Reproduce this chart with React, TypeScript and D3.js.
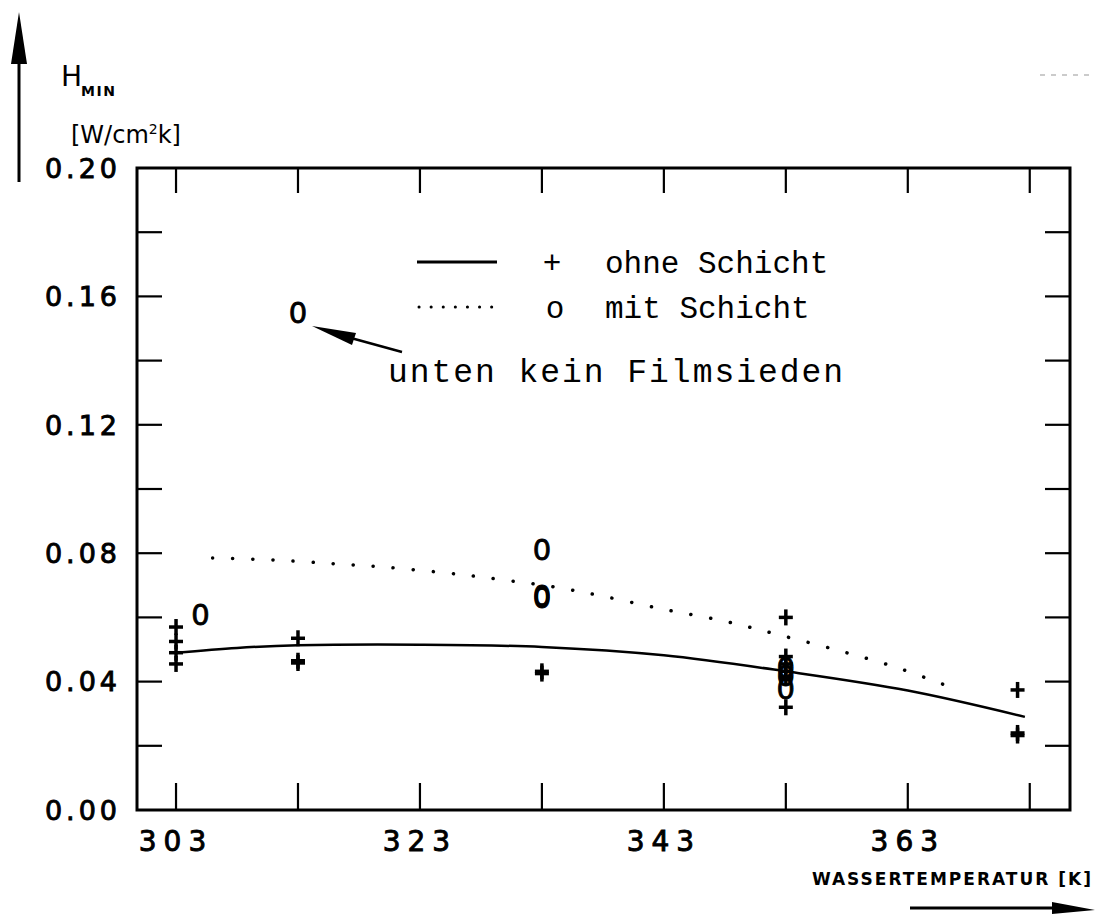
import React from "react";
import * as d3 from "d3";

// ---- data ----
const xTickLabels = [303, 323, 343, 363];
const xMinorTicks = [303, 313, 323, 333, 343, 353, 363, 373];
const yTickLabels = [0.0, 0.04, 0.08, 0.12, 0.16, 0.2];
const yMinorTicks = [0.02, 0.04, 0.06, 0.08, 0.1, 0.12, 0.14, 0.16, 0.18];

// "+" ohne Schicht
const plusT = [303, 303, 303, 303, 313, 313, 313, 333, 333, 353, 353, 353, 353, 353, 353, 372, 372, 372];
const plusH = [0.057, 0.0525, 0.049, 0.0455, 0.0535, 0.0458, 0.0465, 0.0425, 0.0432, 0.06, 0.0478, 0.0455, 0.0432, 0.0412, 0.032, 0.0374, 0.0232, 0.0240];

// "0" mit Schicht
const circT = [305, 313, 333, 333, 333, 353, 353, 353];
const circH = [0.061, 0.155, 0.081, 0.0662, 0.0668, 0.0445, 0.042, 0.0378];

// fitted curves
const solidT = [303, 308, 313, 323, 333, 343, 353, 363, 372.6];
const solidH = [0.049, 0.0505, 0.0513, 0.0515, 0.0508, 0.0482, 0.0432, 0.0372, 0.029];
const dotT = [306, 311, 316, 320, 326, 330, 334, 338, 343, 348, 352.5, 357.5, 362, 366];
const dotH = [0.0785, 0.0779, 0.0767, 0.0757, 0.0735, 0.0716, 0.0695, 0.0666, 0.0625, 0.0588, 0.0545, 0.0495, 0.0445, 0.039];

const W = 1095;
const H = 914;

export default function App() {
  const x = d3.scaleLinear().domain([299.8, 376.3]).range([137, 1070]);
  const y = d3.scaleLinear().domain([0, 0.2]).range([810, 168]);
  const x0 = x.range()[0], x1 = x.range()[1];
  const y0 = y.range()[0], y1 = y.range()[1];

  const line = d3
    .line<number>()
    .x((_, i) => x(solidT[i]))
    .y((d) => y(d))
    .curve(d3.curveCatmullRom.alpha(0.5));
  const dline = d3
    .line<number>()
    .x((_, i) => x(dotT[i]))
    .y((d) => y(d))
    .curve(d3.curveCatmullRom.alpha(0.5));

  const tickFont = "'DejaVu Sans', sans-serif";
  const courier = "'Liberation Mono', 'Courier New', monospace";

  return (
    <svg
      width={W}
      height={H}
      viewBox={`0 0 ${W} ${H}`}
      style={{ position: "absolute", left: 0, top: 0, background: "#fff" }}
    >
      <rect x={0} y={0} width={W} height={H} fill="#fff" />

      {/* frame */}
      <rect x={x0} y={y1} width={x1 - x0} height={y0 - y1} fill="none" stroke="#000" strokeWidth={3} />

      {/* ticks */}
      {xMinorTicks.map((t) => (
        <g key={"xt" + t}>
          <line x1={x(t)} x2={x(t)} y1={y1} y2={y1 + 25} stroke="#000" strokeWidth={2.2} />
          <line x1={x(t)} x2={x(t)} y1={y0} y2={y0 - 27} stroke="#000" strokeWidth={2.2} />
        </g>
      ))}
      {yMinorTicks.map((t) => (
        <g key={"yt" + t}>
          <line x1={x0} x2={x0 + 25} y1={y(t)} y2={y(t)} stroke="#000" strokeWidth={2.2} />
          <line x1={x1} x2={x1 - 25} y1={y(t)} y2={y(t)} stroke="#000" strokeWidth={2.2} />
        </g>
      ))}

      {/* tick labels */}
      {yTickLabels.map((t) => (
        <text
          key={"yl" + t}
          x={121}
          y={y(t)}
          dy="0.36em"
          textAnchor="end"
          fontFamily={tickFont}
          fontSize={27}
          stroke="#000"
          strokeWidth={0.9}
          letterSpacing={4}
        >
          {t.toFixed(2)}
        </text>
      ))}
      {xTickLabels.map((t) => (
        <text
          key={"xl" + t}
          x={x(t)}
          y={851}
          textAnchor="middle"
          fontFamily={tickFont}
          fontSize={28}
          stroke="#000"
          strokeWidth={0.9}
          letterSpacing={7}
        >
          {t}
        </text>
      ))}

      {/* curves */}
      <path d={line(solidH) || ""} fill="none" stroke="#000" strokeWidth={2.5} />
      <path
        d={dline(dotH) || ""}
        fill="none"
        stroke="#000"
        strokeWidth={3.5}
        strokeLinecap="round"
        strokeDasharray="0.1 20"
      />

      {/* plus markers */}
      {plusT.map((t, i) => (
        <g key={"p" + i} transform={`translate(${x(t)},${y(plusH[i])})`}>
          <line x1={-7} x2={7} y1={0} y2={0} stroke="#000" strokeWidth={3.5} />
          <line x1={0} x2={0} y1={-8} y2={8} stroke="#000" strokeWidth={3.5} />
        </g>
      ))}

      {/* zero markers */}
      {circT.map((t, i) => (
        <text
          key={"c" + i}
          x={x(t)}
          y={y(circH[i])}
          dy="0.36em"
          textAnchor="middle"
          fontFamily={tickFont}
          fontSize={29}
          stroke="#000"
          strokeWidth={0.8}
        >
          0
        </text>
      ))}

      {/* legend */}
      <line x1={417} x2={497} y1={262} y2={262} stroke="#000" strokeWidth={3} />
      <line
        x1={419}
        x2={492}
        y1={307}
        y2={307}
        stroke="#000"
        strokeWidth={3}
        strokeLinecap="round"
        strokeDasharray="0.1 12"
      />
      <text x={552} y={262} dy="0.36em" textAnchor="middle" fontFamily={courier} fontSize={31}>
        +
      </text>
      <text x={555} y={307} dy="0.36em" textAnchor="middle" fontFamily={courier} fontSize={31}>
        o
      </text>
      <text x={605} y={262} dy="0.36em" fontFamily={courier} fontSize={31}>
        ohne Schicht
      </text>
      <text x={605} y={307} dy="0.36em" fontFamily={courier} fontSize={31}>
        mit Schicht
      </text>
      <text
        x={388}
        y={370}
        dy="0.36em"
        fontFamily={courier}
        fontSize={33}
        textLength={455}
        lengthAdjust="spacing"
      >
        unten kein Filmsieden
      </text>

      {/* annotation arrow */}
      <line x1={402} x2={340} y1={352} y2={335} stroke="#000" strokeWidth={2.5} />
      <polygon points="312,326 356,333 352,345" fill="#000" />

      {/* y axis arrow + label */}
      <line x1={19} x2={19} y1={182} y2={40} stroke="#000" strokeWidth={3} />
      <polygon points="19,12 11,64 27,64" fill="#000" />
      <text x={61} y={86} fontFamily="'DejaVu Sans', sans-serif" fontSize={28}>
        H
      </text>
      <text x={81} y={96} fontFamily="'DejaVu Sans', sans-serif" fontSize={14} fontWeight="bold" letterSpacing={1.5}>
        MIN
      </text>
      <text x={71} y={143} fontFamily="'DejaVu Sans', sans-serif" fontSize={24}>
        [W/cm
        <tspan fontSize={14} dy={-9}>2</tspan>
        <tspan dy={9}>k]</tspan>
      </text>

      {/* x axis title + arrow */}
      <text
        x={1093}
        y={885}
        textAnchor="end"
        fontFamily="'DejaVu Sans', sans-serif"
        fontSize={17}
        fontWeight="bold"
        letterSpacing={2}
      >
        WASSERTEMPERATUR [K]
      </text>
      <line x1={910} x2={1060} y1={908} y2={908} stroke="#000" strokeWidth={3} />
      <polygon points="1095,910 1052,902 1052,914" fill="#000" />

      {/* faint scan artifact top right */}
      <line x1={1040} x2={1092} y1={75} y2={75} stroke="#bbb" strokeWidth={1.5} strokeDasharray="5 6" />
    </svg>
  );
}
